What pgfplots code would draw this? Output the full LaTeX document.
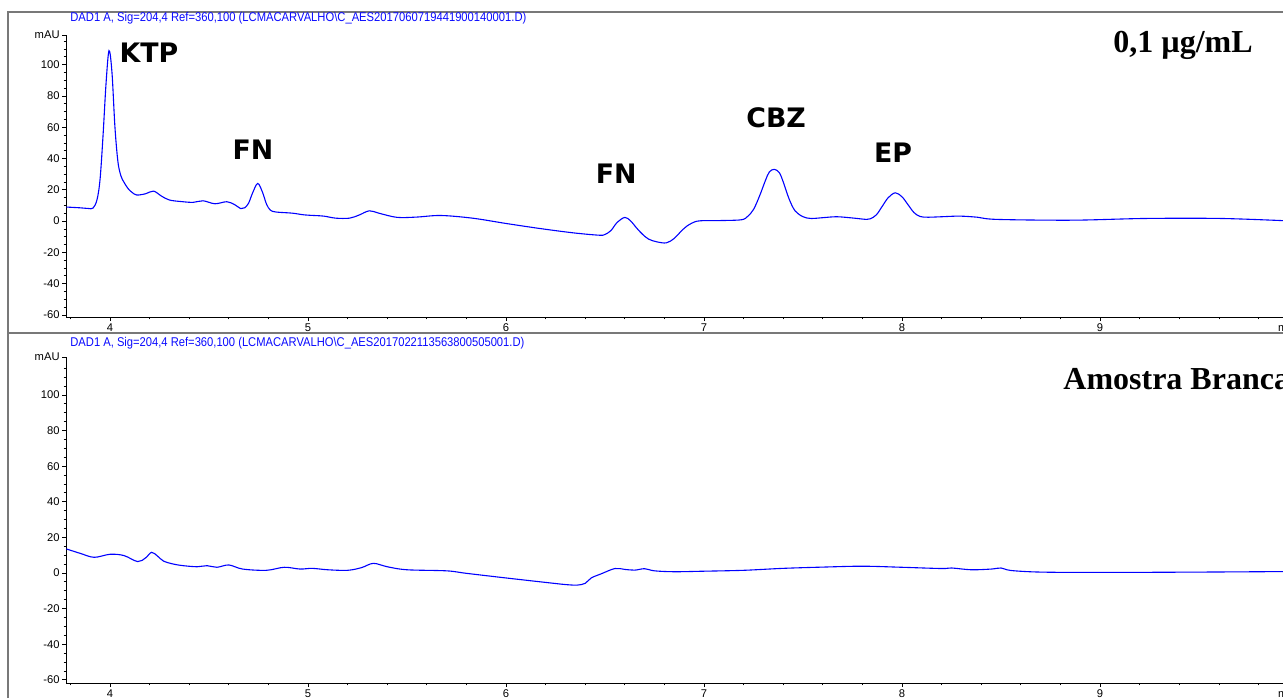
\documentclass[border=0pt]{standalone}
\usepackage{pgfplots}
\pgfplotsset{compat=1.18}
\usepackage{fontspec}
\setmainfont{Liberation Serif}
\newfontfamily\tickfont{Liberation Sans}
\newfontfamily\labfont{DejaVu Sans}
\definecolor{curve}{RGB}{10,10,255}
\definecolor{framegray}{RGB}{120,120,120}
\pgfplotsset{chrom/.style={
  scale only axis, width=610.5pt, xmin=3.7778, xmax=9.944,
  axis x line=bottom, axis y line=left,
  axis line style={-, black, line width=0.5pt},
  tick align=outside, major tick length=2pt, minor tick length=1.2pt,
  every tick/.style={black, line width=0.4pt},
  xtick={4,5,6,7,8,9}, xticklabels={4,5,6,7,8,9},
  minor xtick={3.8,4.0,...,9.9},
  ytick={-60,-40,-20,0,20,40,60,80,100},
  yticklabels={-60,-40,-20,0,20,40,60,80,100},
  minor ytick={-60,-55,...,115},
  extra x ticks={9.944}, extra x tick labels={min},
  tick label style={font=\tickfont\fontsize{5.6}{6}\selectfont, inner sep=1pt},
  clip=false,
  every axis plot/.append style={curve, no markers, line width=0.55pt, smooth, tension=0.55}
}}
\begin{document}
\begin{tikzpicture}
\useasboundingbox (0,0) rectangle (641.5pt,349pt);
% frame
\draw[framegray, line width=0.6pt] (4pt,0pt) -- (4pt,343pt) -- (650pt,343pt);
\draw[framegray, line width=0.6pt] (4pt,182.5pt) -- (650pt,182.5pt);
% titles
\node[anchor=base west, inner sep=0pt, text=curve] at (35pt,338pt)
  {\resizebox{228pt}{4.6pt}{\tickfont DAD1 A, Sig=204,4 Ref=360,100 (LCMACARVALHO\textbackslash C\_AES2017060719441900140001.D)}};
\node[anchor=base west, inner sep=0pt, text=curve] at (35pt,176pt)
  {\resizebox{227pt}{4.6pt}{\tickfont DAD1 A, Sig=204,4 Ref=360,100 (LCMACARVALHO\textbackslash C\_AES2017022113563800505001.D)}};

\begin{axis}[chrom, at={(33pt,190.5pt)}, anchor=south west, height=141pt,
  ymin=-61.3, ymax=119, extra y ticks={119}, extra y tick labels={mAU}]
\addplot coordinates {
(3.78,9) (3.85,8.5) (3.89,8.1) (3.915,8.4) (3.935,14) (3.95,27) (3.965,55) (3.98,88) (3.995,109)
(4.01,95) (4.025,60) (4.04,38) (4.055,29) (4.07,25) (4.09,21) (4.11,18.5) (4.135,16.7) (4.18,17.5)
(4.22,19.2) (4.26,16) (4.30,13.5) (4.36,12.5) (4.42,12) (4.47,13) (4.53,11.1) (4.59,12.4)
(4.63,10.5) (4.66,8) (4.68,8.5) (4.70,11.5) (4.72,18) (4.746,24.1) (4.77,18.5) (4.79,11) (4.81,7)
(4.84,5.8) (4.92,5.1) (4.98,4) (5.03,3.6) (5.08,3.2) (5.14,1.9) (5.21,1.9) (5.26,4)
(5.31,6.6) (5.36,5) (5.45,2.4) (5.55,2.6) (5.67,3.6) (5.83,1.9) (6.0,-1.5) (6.17,-4.7)
(6.34,-7.5) (6.47,-9) (6.50,-8.5) (6.53,-6) (6.56,-1) (6.60,2.4) (6.63,0) (6.66,-4.5) (6.69,-8.5)
(6.72,-11.5) (6.76,-13.2) (6.81,-13.9) (6.85,-11) (6.88,-7) (6.91,-3.5) (6.94,-1.2) (6.98,0.2)
(7.1,0.4) (7.19,0.9) (7.22,3) (7.25,7.5) (7.28,16) (7.31,26) (7.33,31.5) (7.355,33.1) (7.38,31)
(7.40,25) (7.43,14) (7.46,6.5) (7.50,2.8) (7.54,1.7) (7.60,2.2) (7.67,2.8) (7.75,2) (7.82,1.1)
(7.84,1.5) (7.87,4) (7.90,9.5) (7.93,15) (7.966,18.1) (8.0,15.5) (8.03,10.5) (8.06,5.5) (8.09,3)
(8.13,2.5) (8.2,2.8) (8.29,3.2) (8.38,2.5)
(8.48,1.1) (8.86,0.6) (9.23,1.7) (9.61,1.7) (9.944,0.2)
};
\node[font=\labfont\bfseries\fontsize{13.4}{14}\selectfont] at (axis cs:4.197,107.7) {KTP};
\node[font=\labfont\bfseries\fontsize{13.4}{14}\selectfont] at (axis cs:4.722,45.5) {FN};
\node[font=\labfont\bfseries\fontsize{13.4}{14}\selectfont] at (axis cs:6.556,30.1) {FN};
\node[font=\labfont\bfseries\fontsize{13.4}{14}\selectfont] at (axis cs:7.364,66) {CBZ};
\node[font=\labfont\bfseries\fontsize{13.4}{14}\selectfont] at (axis cs:7.955,43.6) {EP};
\end{axis}

\begin{axis}[chrom, at={(33pt,7.5pt)}, anchor=south west, height=163pt,
  ymin=-61.8, ymax=121.3, extra y ticks={121.3}, extra y tick labels={mAU}]
\addplot coordinates {
(3.78,13.5) (3.85,11) (3.92,8.8) (4.0,10.5) (4.07,9.8) (4.14,6.4) (4.18,8.5) (4.21,11.6)
(4.24,9.5) (4.27,6.7) (4.32,5) (4.37,4.1) (4.44,3.5) (4.49,4.1) (4.54,3.2) (4.60,4.5)
(4.67,2.2) (4.79,1.5) (4.88,3.2) (4.96,2.2) (5.02,2.6) (5.1,1.8) (5.2,1.5) (5.27,3)
(5.33,5.4) (5.4,3.5) (5.5,1.8) (5.7,1.2) (5.8,-0.2) (6.0,-2.8) (6.2,-5.3) (6.3,-6.5)
(6.36,-6.8) (6.4,-5.8) (6.43,-2.8) (6.48,-0.5) (6.55,2.5) (6.6,2) (6.65,1.6) (6.7,2.4)
(6.75,1.2) (6.85,0.7) (7.0,1) (7.2,1.5) (7.4,2.6) (7.6,3.3) (7.8,3.8) (8.0,3.2) (8.2,2.5)
(8.25,2.8) (8.35,1.8) (8.45,2.2) (8.5,2.8) (8.55,1.4) (8.7,0.5) (9.0,0.3) (9.5,0.5) (9.944,0.8)
};
\end{axis}

\node[anchor=base west, inner sep=0pt, font=\bfseries\fontsize{16}{18}\selectfont] at (556.5pt,323pt) {0,1 µg/mL};
\node[anchor=base west, inner sep=0pt, font=\bfseries\fontsize{16}{18}\selectfont] at (531.5pt,154.5pt) {Amostra Branca};
\end{tikzpicture}
\end{document}
